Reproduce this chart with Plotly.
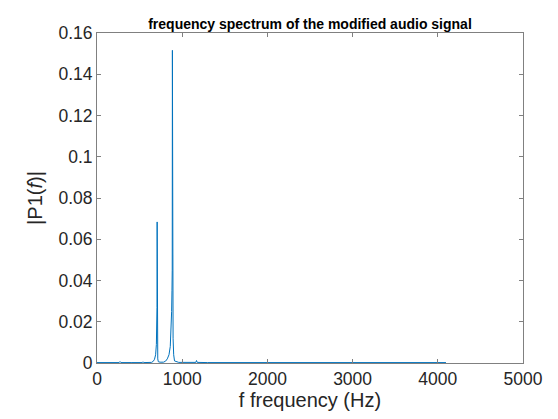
import plotly.graph_objects as go

# one-sided spectrum (Hz, |P1(f)|)
freq = [0, 100, 200, 260, 270, 280, 400, 530, 540, 550, 640, 660, 675, 688,
        697, 702, 704, 706, 709, 713, 720, 740, 780, 805, 825, 845, 860,
        870, 876, 880, 883, 885, 888, 893, 900, 910, 960, 1100, 1160, 1168,
        1176, 1300, 2000, 3000, 4096]
mag = [0.0002, 0.0002, 0.0002, 0.0002, 0.0007, 0.0002, 0.0002, 0.0002,
       0.0006, 0.0002, 0.0003, 0.0008, 0.0018, 0.004, 0.009, 0.019, 0.027,
       0.0684, 0.011, 0.002, 0.0006, 0.0004, 0.0004, 0.0009, 0.002, 0.004,
       0.008, 0.015, 0.025, 0.035, 0.045, 0.1516, 0.030, 0.012, 0.004,
       0.001, 0.0003, 0.0002, 0.0003, 0.0012, 0.0003, 0.0002, 0.0002,
       0.0002, 0.0002]

x_ticks = [0, 1000, 2000, 3000, 4000, 5000]
y_ticks = [0, 0.02, 0.04, 0.06, 0.08, 0.1, 0.12, 0.14, 0.16]
y_labels = ['0', '0.02', '0.04', '0.06', '0.08', '0.1', '0.12', '0.14', '0.16']

FONT = 'Liberation Sans, Arial'

fig = go.Figure()

fig.add_trace(go.Scatter(
    x=freq, y=mag, mode='lines',
    line=dict(color='#0072BD', width=1),
    showlegend=False))

axis_style = dict(
    showline=True, linecolor='#808080', linewidth=1, mirror='ticks',
    ticks='inside', ticklen=4, tickcolor='#808080',
    showgrid=False, zeroline=False,
    tickfont=dict(family=FONT, size=17.5, color='#262626'))

fig.update_xaxes(range=[0, 5000], tickvals=x_ticks,
                 title=dict(text='f frequency (Hz)', standoff=4,
                            font=dict(family=FONT, size=20, color='#262626')),
                 **axis_style)
fig.update_yaxes(range=[0, 0.16], tickvals=y_ticks, ticktext=y_labels,
                 title=dict(text='|P1(<i>f</i>)|', standoff=10,
                            font=dict(family=FONT, size=20, color='#262626')),
                 **axis_style)

# page body has an 8px margin, so the margins are shifted by that
fig.update_layout(
    width=558, height=419,
    margin=dict(l=89, r=43, t=25, b=64),
    paper_bgcolor='white', plot_bgcolor='white',
    title=dict(text='<b>frequency spectrum of the modified audio signal</b>',
               x=0.5, xref='paper', xanchor='center',
               y=1, yref='paper', yanchor='bottom', pad=dict(b=4),
               font=dict(family=FONT, size=14, color='black')))

fig.write_html("out.html")
